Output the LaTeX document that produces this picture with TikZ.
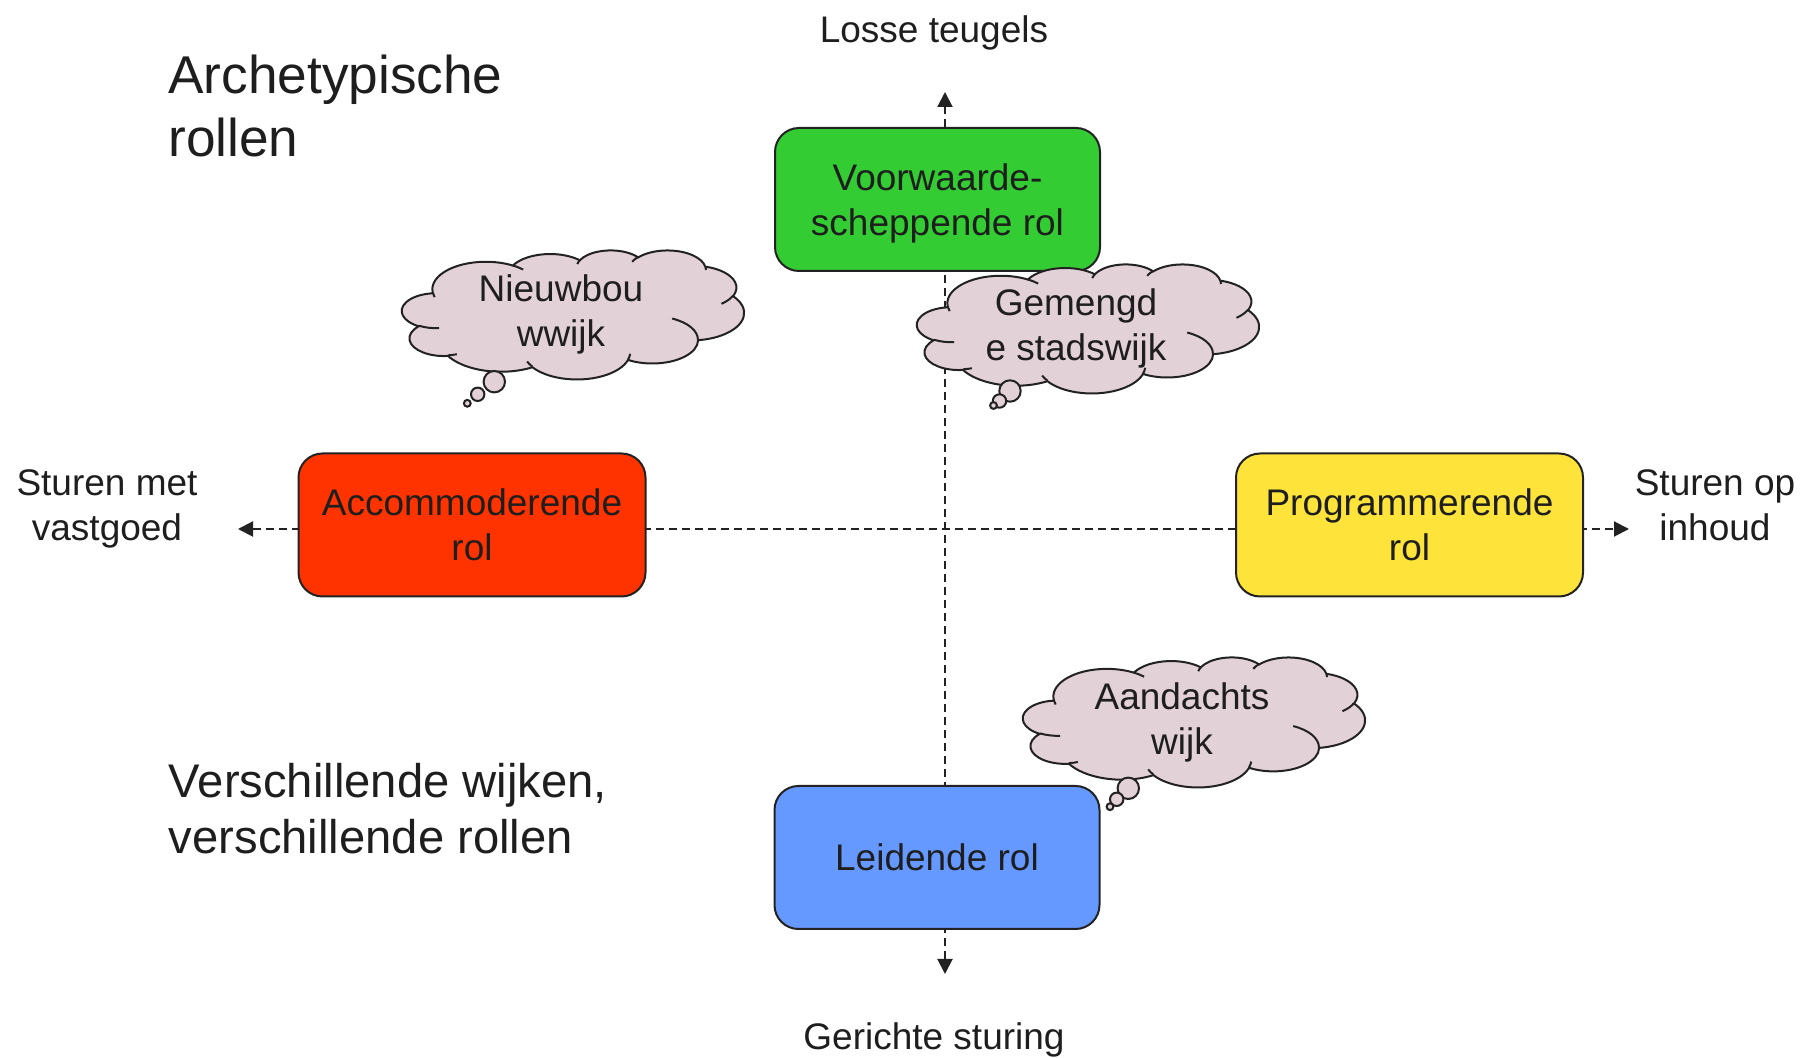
\documentclass[tikz,border=0pt]{standalone}
\usepackage{fontspec}
\setmainfont{Liberation Sans}
\usetikzlibrary{arrows.meta}
\definecolor{txt}{RGB}{30,30,30}
\definecolor{edge}{RGB}{34,34,34}
\definecolor{boxgreen}{RGB}{51,204,51}
\definecolor{boxred}{RGB}{255,51,0}
\definecolor{boxyellow}{RGB}{253,227,58}
\definecolor{boxblue}{RGB}{102,153,255}
\definecolor{cloudfill}{RGB}{227,209,216}
\newcommand\lstrut{\rule[-0.2\baselineskip]{0pt}{\baselineskip}}
\newcommand\cloudbody{%
  \filldraw[cloudout] (3.9pt,14.37pt)
    arc[start angle=-187.75,end angle=-59.64,x radius=6.753pt,y radius=9.19pt]
    arc[start angle=-152.02,end angle=-45.42,x radius=5.333pt,y radius=7.267pt]
    arc[start angle=-153.49,end angle=-37.33,x radius=4.365pt,y radius=5.945pt]
    arc[start angle=-139.69,end angle=-10.21,x radius=4.857pt,y radius=6.595pt]
    arc[start angle=-74.77,end angle=23.21,x radius=5.333pt,y radius=7.273pt]
    arc[start angle=-37.52,end angle=81.86,x radius=6.775pt,y radius=9.22pt]
    arc[start angle=0.46,end angle=121.98,x radius=5.785pt,y radius=7.867pt]
    arc[start angle=16.84,end angle=146.25,x radius=6.752pt,y radius=9.215pt]
    arc[start angle=58.98,end angle=150.2,x radius=7.72pt,y radius=10.543pt]
    arc[start angle=-276.69,end angle=-136.87,x radius=4.36pt,y radius=5.918pt]
    arc[start angle=-239.65,end angle=-95.89,x radius=4.345pt,y radius=5.945pt]
    -- cycle;
  \draw[cloudin]
    (4.693pt,26.177pt) arc[start angle=85.55,end angle=120.35,x radius=4.345pt,y radius=5.945pt]
    (6.928pt,34.899pt) arc[start angle=68.24,end angle=83.31,x radius=4.36pt,y radius=5.918pt]
    (16.478pt,39.09pt) arc[start angle=146.25,end angle=158.47,x radius=6.752pt,y radius=9.215pt]
    (28.827pt,34.751pt) arc[start angle=4.74,end angle=16.84,x radius=6.752pt,y radius=9.215pt]
    (34.129pt,22.954pt) arc[start angle=-64.03,end angle=0.46,x radius=5.785pt,y radius=7.867pt]
    (41.798pt,15.354pt) arc[start angle=23.21,end angle=49.63,x radius=5.333pt,y radius=7.273pt]
    (38.324pt,5.426pt) arc[start angle=-10.21,end angle=0.82,x radius=4.857pt,y radius=6.595pt]
    (29.078pt,3.952pt) arc[start angle=-156.29,end angle=-139.69,x radius=4.857pt,y radius=6.595pt]
    (22.141pt,4.72pt) arc[start angle=-167.73,end angle=-153.49,x radius=4.365pt,y radius=5.945pt]
    (14pt,5.192pt) arc[start angle=-59.64,end angle=-45.7,x radius=6.753pt,y radius=9.19pt]
    (4.127pt,15.789pt) arc[start angle=163.19,end angle=172.25,x radius=6.753pt,y radius=9.19pt];
}
\newcommand\placecloud[4]{%
  \begin{scope}[shift={(#1,#2)},xscale=#3,yscale=#4]\cloudbody\end{scope}}
\begin{document}
\begin{tikzpicture}[x=0.5pt,y=-0.5pt,
  every node/.style={text=txt, inner sep=0pt},
  lbl/.style={font=\fontsize{18.5pt}{22.5pt}\selectfont, align=center},
  rolebox/.style={lbl, draw=edge, line width=1pt, rounded corners=12pt, minimum height=71.5pt},
  axisline/.style={draw=edge, line width=1pt, dash pattern=on 4pt off 2.5pt,
    arrows={Triangle[length=7.5pt,width=7.5pt]-Triangle[length=7.5pt,width=7.5pt]}},
  cloudout/.style={draw=edge, fill=cloudfill, line width=1pt},
  cloudin/.style={draw=edge, line width=1pt},
]
\useasboundingbox (0,0) rectangle (1801,1058);
\fill[white] (0,0) rectangle (1801,1058);

% axes
\coordinate (vtop) at (945,92);
\coordinate (vbot) at (945,974);
\coordinate (hleft) at (238,529);
\coordinate (hright) at (1629,529);
\draw[axisline] (vbot) -- (vtop);
\draw[axisline] (hleft) -- (hright);

% role boxes
\node[rolebox, fill=boxgreen, minimum width=162.5pt] (green) at (937.5,199.5) {\lstrut Voorwaarde-\\\lstrut scheppende rol};
\node[rolebox, fill=boxred, minimum width=173.5pt] (red) at (472,525) {\lstrut Accommoderende\\\lstrut rol};
\node[rolebox, fill=boxyellow, minimum width=173.5pt] (yellow) at (1409.5,525) {\lstrut Programmerende\\\lstrut rol};
\node[rolebox, fill=boxblue, minimum width=162.5pt] (blue) at (937,857.5) {\lstrut Leidende rol};

% axis labels
\node[lbl] (losse) at (934,29) {\lstrut Losse teugels};
\node[lbl] (gericht) at (934,1036.5) {\lstrut Gerichte sturing};
\node[lbl] (vastgoed) at (107,505) {\lstrut Sturen met\\\lstrut vastgoed};
\node[lbl] (inhoud) at (1715,505) {\lstrut Sturen op\\\lstrut inhoud};

% titles
\node[font=\fontsize{26.6pt}{31.7pt}\selectfont, align=left, anchor=west] (title) at (168,106) {\lstrut Archetypische\\\lstrut rollen};
\node[font=\fontsize{23.6pt}{28.3pt}\selectfont, align=left, anchor=west] (subtitle) at (168.5,808.5) {\lstrut Verschillende wijken,\\\lstrut verschillende rollen};

% cloud 1
\placecloud{402}{250}{3.9583}{-1.4931}
\filldraw[cloudout] (494.3,381.7) circle[radius=5.35pt];
\filldraw[cloudout] (477.7,394.3) circle[radius=3.35pt];
\filldraw[cloudout] (467.3,403.3) circle[radius=1.7pt];
\node[lbl] (nieuwbouw) at (561,310.4) {\lstrut Nieuwbou\\\lstrut wwijk};

% cloud 2
\placecloud{917}{264}{3.9583}{-1.4931}
\filldraw[cloudout] (1010,391) circle[radius=5.35pt];
\filldraw[cloudout] (999.5,401) circle[radius=3.35pt];
\filldraw[cloudout] (993.5,405.5) circle[radius=1.7pt];
\node[lbl] (gemengd) at (1076,324.5) {\lstrut Gemengd\\\lstrut e stadswijk};

% cloud 3
\placecloud{1023}{657}{3.9583}{-1.5046}
\filldraw[cloudout] (1128.3,788.3) circle[radius=5.35pt];
\filldraw[cloudout] (1116.7,799.3) circle[radius=3.35pt];
\filldraw[cloudout] (1110,806.7) circle[radius=1.7pt];
\node[lbl] (aandacht) at (1182,718.7) {\lstrut Aandachts\\\lstrut wijk};
\end{tikzpicture}
\end{document}
